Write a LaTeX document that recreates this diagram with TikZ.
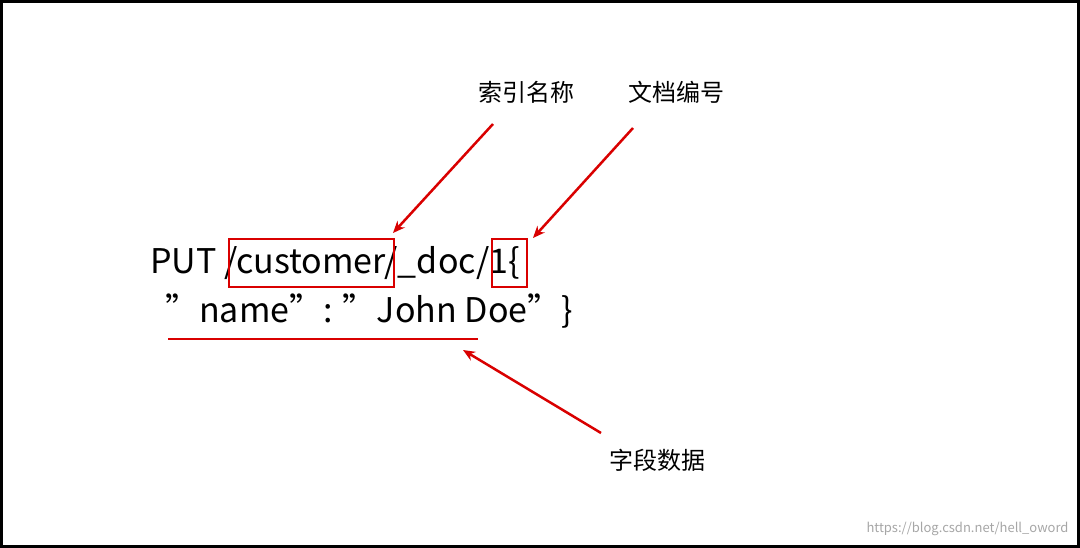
\documentclass[tikz,border=0pt]{standalone}
\usepackage{fontspec}
\setmainfont{Noto Sans CJK SC}
\begin{document}
\begin{tikzpicture}[x=1pt,y=-1pt,
  red/.style={draw=red!85!black,line width=2.5pt},
  arr/.style={red,-{Stealth[length=12pt,width=10pt]}},
  lab/.style={font=\fontsize{24}{28}\selectfont},
  code/.style={font=\fontsize{34}{40}\selectfont,inner sep=0pt,anchor=west}]
\usetikzlibrary{arrows.meta}
\useasboundingbox (0,0) rectangle (1080,548);
\draw[line width=3pt] (1.5,1.5) rectangle (1078.5,546.5);
\node[code] (l1) at (150,263) {PUT /customer/\_doc/1\{};
\node[code] (l2) at (165,311) {"name": "John Doe"\}};
\node[red,draw,inner sep=0pt,minimum width=165pt,minimum height=48pt] (b1) at (311.5,263) {};
\node[red,draw,inner sep=0pt,minimum width=35pt,minimum height=48pt] (b2) at (509.5,263) {};
\coordinate (u1) at (168,339); \coordinate (u2) at (478,339);
\draw[red] (u1) -- (u2);
\node[lab] (t1) at (526,92) {索引名称};
\node[lab] (t2) at (676,92) {文档编号};
\node[lab] (t3) at (657,460) {字段数据};
\coordinate (a1) at (493,124); \coordinate (e1) at (393,233);
\coordinate (a2) at (633,128); \coordinate (e2) at (533,238);
\coordinate (a3) at (601,433); \coordinate (e3) at (463,350);
\draw[arr] (a1) -- (e1);
\draw[arr] (a2) -- (e2);
\draw[arr] (a3) -- (e3);
\node[font=\fontsize{13}{15}\selectfont,text=black!35,anchor=east] (w) at (1072,529) {https://blog.csdn.net/hell\_oword};
\end{tikzpicture}
\end{document}
